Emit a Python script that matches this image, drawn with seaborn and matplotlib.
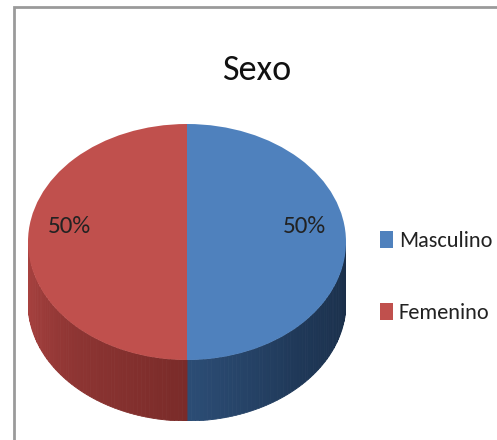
import numpy as np
import matplotlib
matplotlib.use("Agg")
import matplotlib.pyplot as plt
from matplotlib.patches import Polygon, Rectangle
from matplotlib.colors import to_rgb
import seaborn as sns

# ---- data ----
categories = ["Masculino", "Femenino"]
values = [50, 50]
title = "Sexo"

top_colors = ["#4F81BD", "#C0504D"]
# side gradient colors (from the centre line outwards)
side_grad = {
    "Masculino": ["#2C4D75", "#1F3858", "#1A2E48"],
    "Femenino": ["#AC4442", "#8E3533", "#7A2B29"],
}

sns.set_theme(style="white")
plt.rcParams["font.family"] = ["Carlito", "DejaVu Sans"]

W, H = 497, 440
fig = plt.figure(figsize=(W / 100, H / 100), dpi=100)
fig.patch.set_facecolor("white")

# frame border
fig.patches.append(Rectangle((14 / W, -0.1), 1.2, (440 - 7) / H + 0.1,
                             transform=fig.transFigure, fill=False,
                             edgecolor="#9A9A9A", linewidth=2))

# pie geometry (pixel box of the top ellipse + depth)
cx, cy, rx, ry, depth = 187, 242, 159, 118, 61
d = depth / ry
left = (cx - rx) / W
bottom = (H - (cy + ry + depth)) / H
width = 2 * rx / W
height = (2 * ry + depth) / H
ax = fig.add_axes([left, bottom, width, height])

wedges, texts, autotexts = ax.pie(
    values, colors=top_colors, startangle=90, counterclock=False,
    radius=1, autopct="%1.0f%%", pctdistance=0.74,
    wedgeprops=dict(linewidth=0, zorder=3),
    textprops=dict(fontsize=18, color="#222222"))
for t in autotexts:
    x, y = t.get_position()
    t.set_position((x, y + 0.13))
    t.set_zorder(5)

ax.set_aspect("auto")
ax.set_xlim(-1, 1)
ax.set_ylim(-1 - d, 1)
ax.axis("off")


def lerp_colors(cols, f):
    cols = [np.array(to_rgb(c)) for c in cols]
    seg = f * (len(cols) - 1)
    i = min(int(seg), len(cols) - 2)
    u = seg - i
    return cols[i] * (1 - u) + cols[i + 1] * u


# side walls: each wedge's angular span, drawing the visible front part
start = 90.0
total = float(sum(values))
for cat, v in zip(categories, values):
    theta1 = start - 360.0 * v / total  # clockwise
    theta2 = start
    start = theta1
    segs = []
    for off in (0.0, 360.0):
        lo, hi = max(theta1 + off, -180.0), min(theta2 + off, 0.0)
        if hi > lo:
            segs.append((lo, hi))
    for a0, a1 in segs:
        n = 60
        angs = np.linspace(a0, a1, n + 1)
        for k in range(n):
            t = np.radians(np.linspace(angs[k], angs[k + 1], 4))
            xs = np.cos(t)
            ys = np.sin(t)
            pts = np.concatenate([np.c_[xs, ys], np.c_[xs[::-1], ys[::-1] - d]])
            mid = (angs[k] + angs[k + 1]) / 2
            f = abs(mid + 90) / 90.0
            if cat == "Femenino":
                f = 1 - f
            col = lerp_colors(side_grad[cat], f)
            ax.add_patch(Polygon(pts, closed=True, facecolor=col,
                                 edgecolor=col, linewidth=0.6, zorder=2))

# title
fig.text(257 / W, 1 - 70 / H, title, ha="center", va="center",
         fontsize=26, color="#111111")

# legend
leg = fig.legend(wedges, categories, loc="center left",
                 bbox_to_anchor=(380 / W, 1 - 277 / H), frameon=False,
                 fontsize=16, handlelength=0.6, handleheight=0.8,
                 handletextpad=0.25, labelspacing=2.35, borderaxespad=0,
                 borderpad=0)
for txt in leg.get_texts():
    txt.set_color("#222222")

fig.savefig("out.png", dpi=100, facecolor="white")
